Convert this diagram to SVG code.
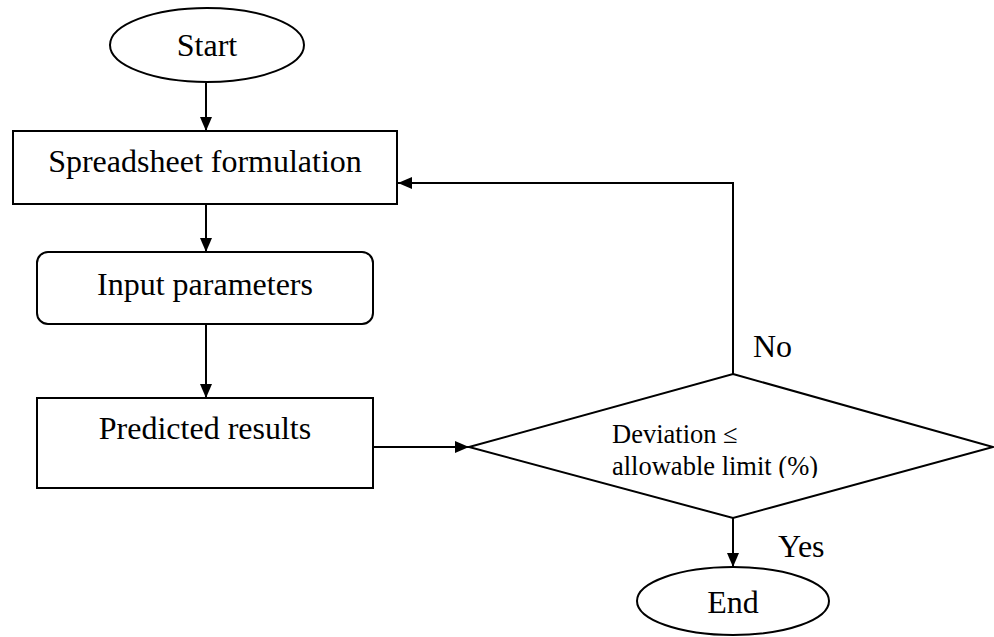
<svg xmlns="http://www.w3.org/2000/svg" width="994" height="637" viewBox="0 0 994 637">
  <style>
    .shape { fill: #ffffff; stroke: #000000; stroke-width: 2; }
    .line { fill: none; stroke: #000000; stroke-width: 2; }
    .lbl { font-family: "Liberation Serif", "Times New Roman", serif; font-size: 32px; fill: #000000; }
    .mid { text-anchor: middle; }
    .small { font-size: 26.5px; }
  </style>
  <defs>
    <marker id="arrow" viewBox="0 0 14 12" refX="14" refY="6" markerWidth="14" markerHeight="12" markerUnits="userSpaceOnUse" orient="auto">
      <path d="M0,0 L14,6 L0,12 Z" fill="#000000"/>
    </marker>
    <!-- text frame of the decision label; its lower edge trims the last line -->
    <clipPath id="decisionText">
      <rect x="600" y="410" width="240" height="68"/>
    </clipPath>
  </defs>
  <rect width="994" height="637" fill="#ffffff"/>

  <g id="connectors">
    <line class="line" x1="206" y1="83" x2="206" y2="131" marker-end="url(#arrow)"/>
    <line class="line" x1="206" y1="205" x2="206" y2="252" marker-end="url(#arrow)"/>
    <line class="line" x1="206" y1="325" x2="206" y2="398" marker-end="url(#arrow)"/>
    <line class="line" x1="373" y1="447" x2="469" y2="447" marker-end="url(#arrow)"/>
    <polyline class="line" points="733,374 733,183 398,183" marker-end="url(#arrow)"/>
    <line class="line" x1="733" y1="518" x2="733" y2="567" marker-end="url(#arrow)"/>
  </g>

  <g id="start">
    <ellipse class="shape" cx="207" cy="45" rx="97" ry="37"/>
    <text class="lbl mid" x="207" y="56">Start</text>
  </g>

  <g id="formulation">
    <rect class="shape" x="13" y="131" width="384" height="73"/>
    <text class="lbl mid" x="205" y="172">Spreadsheet formulation</text>
  </g>

  <g id="input">
    <rect class="shape" x="37" y="252" width="336" height="72" rx="11" ry="11"/>
    <text class="lbl mid" x="205" y="295">Input parameters</text>
  </g>

  <g id="predicted">
    <rect class="shape" x="37" y="398" width="336" height="90"/>
    <text class="lbl mid" x="205" y="439">Predicted results</text>
  </g>

  <g id="decision">
    <polygon class="shape" points="733,374 993,447 733,518 469,447"/>
    <g clip-path="url(#decisionText)">
      <text class="lbl small" x="612" y="443">Deviation ≤</text>
      <text class="lbl small" x="612" y="475">allowable limit (%)</text>
    </g>
    <text class="lbl" x="753" y="357">No</text>
    <text class="lbl" x="778" y="557">Yes</text>
  </g>

  <g id="end">
    <ellipse class="shape" cx="733" cy="601" rx="96" ry="34"/>
    <text class="lbl mid" x="733" y="613">End</text>
  </g>
</svg>
